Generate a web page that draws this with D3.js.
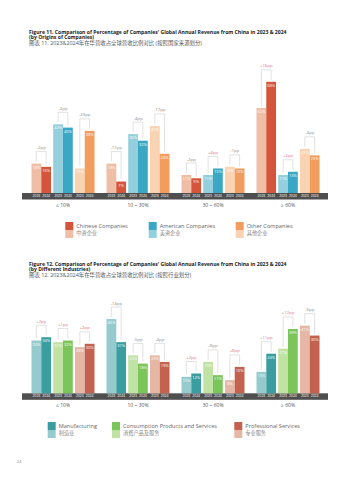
<!DOCTYPE html>
<html><head><meta charset="utf-8">
<script src="https://cdn.jsdelivr.net/npm/d3@7"></script>
<style>
body{margin:0;background:#fff}
svg{display:block}
text{font-family:"Open Sans","Noto Sans CJK SC",sans-serif}
</style>
</head><body><svg id="c" width="359" height="480"></svg>
<script>
// ---------- shared ----------
const ranges = ["≤ 10%", "10 ~ 30%", "30 ~ 60%", "≥ 60%"];
const years = ["2023", "2024"];

// ---------- Figure 11 (by origins) ----------
const origins = ["Chinese Companies", "American Companies", "Other Companies"];
const originsCN = ["中资企业", "美资企业", "其他企业"];
const chinese2023 = [18, 18, 11, 52];
const chinese2024 = [16, 7, 9, 68];
const chineseChange = ["-2pp", "-11pp", "-2pp", "+16pp"];
const american2023 = [42, 36, 11, 11];
const american2024 = [40, 32, 15, 13];
const americanChange = ["-2pp", "-4pp", "+4pp", "+2pp"];
const other2023 = [15, 41, 16, 27];
const other2024 = [38, 24, 15, 23];
const otherChange = ["-23pp", "-17pp", "-1pp", "-4pp"];

// ---------- Figure 12 (by industries) ----------
const industries = ["Manufacturing", "Consumption Products and Services", "Professional Services"];
const industriesCN = ["制造业", "消费产品及服务", "专业服务"];
const manuf2023 = [32, 45, 10, 13];
const manuf2024 = [34, 31, 12, 24];
const manufChange = ["+2pp", "-14pp", "+2pp", "+11pp"];
const cons2023 = [31, 23, 19, 27];
const cons2024 = [32, 18, 11, 39];
const consChange = ["+1pp", "-5pp", "-8pp", "+12pp"];
const prof2023 = [28, 23, 8, 41];
const prof2024 = [30, 19, 16, 35];
const profChange = ["+2pp", "-4pp", "+8pp", "-6pp"];

const title11 = ["Figure 11. Comparison of Percentage of Companies' Global Annual Revenue from China in 2023 & 2024",
  "(by Origins of Companies)", "图表 11. 2023&2024年在华营收占全球营收比例对比 (按照国家来源划分)"];
const title12 = ["Figure 12. Comparison of Percentage of Companies' Global Annual Revenue from China in 2023 & 2024",
  "(by Different Industries)", "图表 12. 2023&2024年在华营收占全球营收比例对比 (按照行业划分)"];
const pageNumber = "24";

// ---------- build tables ----------
const series1 = [
  {name: origins[0], cn: originsCN[0], a: chinese2023, b: chinese2024, ch: chineseChange, dark: "#d4553a", light: "#f0bda6"},
  {name: origins[1], cn: originsCN[1], a: american2023, b: american2024, ch: americanChange, dark: "#3aa7c4", light: "#93cfdc"},
  {name: origins[2], cn: originsCN[2], a: other2023, b: other2024, ch: otherChange, dark: "#f29c5e", light: "#f9d3b2"}
];
const series2 = [
  {name: industries[0], cn: industriesCN[0], a: manuf2023, b: manuf2024, ch: manufChange, dark: "#3a9ea1", light: "#95cbcc"},
  {name: industries[1], cn: industriesCN[1], a: cons2023, b: cons2024, ch: consChange, dark: "#7cc55b", light: "#c0e2a2"},
  {name: industries[2], cn: industriesCN[2], a: prof2023, b: prof2024, ch: profChange, dark: "#c2624f", light: "#e7b7a6"}
];

const svg = d3.select("#c");
svg.append("rect").attr("width", 359).attr("height", 480).attr("fill", "#fff");

function drawTitle(lines, y0) {
  const g = svg.append("g");
  g.append("text").attr("x", 29).attr("y", y0).attr("font-size", 5.1).attr("font-weight", 700).attr("fill", "#222").text(lines[0]);
  g.append("text").attr("x", 29).attr("y", y0 + 5.6).attr("font-size", 5.1).attr("font-weight", 700).attr("fill", "#222").text(lines[1]);
  g.append("text").attr("x", 29).attr("y", y0 + 11.6).attr("font-size", 5.4).attr("fill", "#555").text(lines[2]);
}

function drawChart(series, base, h100, legendY, legendX) {
  const g = svg.append("g");
  const x0 = d3.scaleBand().domain(ranges).range([25.5, 325.5]).paddingInner(0.16).paddingOuter(0.08);
  const x1 = d3.scaleBand().domain(series.map(s => s.name)).range([0, x0.bandwidth()]).paddingInner(0.1);
  const x2 = d3.scaleBand().domain(years).range([0, x1.bandwidth()]);
  const y = d3.scaleLinear().domain([0, 100]).range([base, base - h100]);

  g.append("rect").attr("x", 22).attr("y", base).attr("width", 306).attr("height", 6.5).attr("fill", "#4f4f4f");

  ranges.forEach((r, i) => {
    series.forEach(s => {
      const pg = g.append("g").attr("transform", `translate(${x0(r) + x1(s.name)},0)`);
      const vals = [s.a[i], s.b[i]];
      years.forEach((yr, j) => {
        pg.append("rect").attr("x", x2(yr)).attr("y", y(vals[j]))
          .attr("width", x2.bandwidth()).attr("height", y(0) - y(vals[j]))
          .attr("fill", j ? s.dark : s.light);
        pg.append("text").attr("x", x2(yr) + x2.bandwidth() / 2).attr("y", y(vals[j]) + 5)
          .attr("text-anchor", "middle").attr("font-size", 4).attr("fill", "#fff").text(vals[j] + "%");
      });
      const c0 = x2(years[0]) + x2.bandwidth() / 2, c1 = x2(years[1]) + x2.bandwidth() / 2;
      const top = Math.min(y(vals[0]), y(vals[1])) - 12;
      pg.append("path").attr("d", `M${c0},${y(vals[0]) - 2}V${top}H${c1}V${y(vals[1]) - 2}`)
        .attr("fill", "none").attr("stroke", "#cfcfcf").attr("stroke-width", 0.6);
      const pos = s.ch[i].startsWith("+");
      pg.append("text").attr("x", (c0 + c1) / 2).attr("y", top - 2.5).attr("text-anchor", "middle")
        .attr("font-size", 4.3).attr("fill", pos ? "#e4708a" : "#8a8a8a").text(s.ch[i]);
      const ax = pg.append("g").attr("transform", `translate(0,${base})`)
        .call(d3.axisBottom(x2).tickSize(0).tickPadding(1.6));
      ax.select(".domain").remove();
      ax.selectAll("text").attr("font-size", 3.4).attr("fill", "#fff").attr("font-family", "Open Sans");
    });
  });

  const gx = g.append("g").attr("transform", `translate(0,${base + 6.5})`)
    .call(d3.axisBottom(x0).tickSize(0).tickPadding(4));
  gx.select(".domain").remove();
  gx.selectAll("text").attr("font-size", 5).attr("fill", "#555").attr("font-family", "Open Sans");

  // legend
  series.forEach((s, k) => {
    const lg = g.append("g").attr("transform", `translate(${legendX[k]},${legendY})`);
    lg.append("rect").attr("width", 8).attr("height", 8).attr("fill", s.dark);
    lg.append("rect").attr("y", 8).attr("width", 8).attr("height", 8).attr("fill", s.light);
    lg.append("text").attr("x", 11).attr("y", 6.3).attr("font-size", 5.6).attr("fill", "#666").text(s.name);
    lg.append("text").attr("x", 11).attr("y", 13.3).attr("font-size", 5.2).attr("fill", "#888").text(s.cn);
  });
}

drawTitle(title11, 33.5);
drawChart(series1, 193, 163.5, 222, [65.3, 148.7, 235.7]);
drawTitle(title12, 265.5);
drawChart(series2, 393.3, 165, 422, [47.7, 112, 234.3]);

svg.append("text").attr("x", 16.5).attr("y", 463).attr("font-size", 4.2).attr("fill", "#888").text(pageNumber);
</script>
</body></html>
